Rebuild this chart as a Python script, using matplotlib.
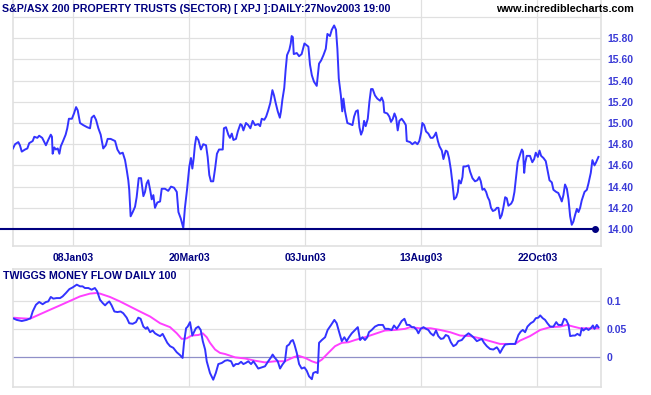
import matplotlib
matplotlib.use("Agg")
import matplotlib.pyplot as plt

# trading-day index (0 = first bar) and closing level of the XPJ index
price_days = [
    0.0, 0.9, 2.3, 3.0, 3.8, 5.2, 6.2, 7.0, 8.5, 9.2,
    10.5, 11.3, 12.6, 13.5, 14.2, 15.2, 16.3, 16.8, 17.1, 17.8,
    18.5, 19.3, 20.0, 20.6, 21.4, 22.7, 23.4, 24.1, 25.4, 26.3,
    27.2, 27.9, 28.9, 30.3, 32.0, 33.2, 33.9, 34.9, 35.8, 36.8,
    37.8, 38.9, 40.0, 40.8, 42.1, 44.0, 45.0, 46.1, 47.3, 48.3,
    49.0, 49.7, 50.1, 50.7, 51.6, 52.6, 53.3, 54.2, 55.2, 56.2,
    56.9, 57.6, 58.3, 59.1, 59.8, 60.5, 61.2, 62.2, 63.4, 64.1,
    65.5, 66.9, 68.1, 69.4, 70.6, 71.3, 72.3, 73.4, 74.1, 75.0,
    76.0, 76.7, 77.3, 77.9, 78.4, 79.0, 79.9, 81.0, 82.0, 83.2,
    83.9, 84.6, 85.3, 86.3, 87.1, 87.9, 88.8, 90.4, 90.9, 91.8,
    92.8, 93.5, 94.3, 95.0, 96.1, 96.9, 98.0, 98.6, 99.3, 100.4,
    101.4, 102.3, 103.3, 104.3, 105.7, 106.5, 107.2, 108.3, 109.1, 110.0,
    110.9, 111.8, 112.5, 113.2, 114.1, 115.0, 115.5, 116.1, 116.9, 117.5,
    118.1, 119.1, 119.7, 120.1, 120.6, 121.0, 122.3, 123.3, 124.4, 125.6,
    127.3, 128.0, 128.8, 129.7, 130.9, 131.9, 132.8, 133.8, 134.8, 135.5,
    136.6, 137.4, 138.4, 139.2, 139.8, 140.4, 141.3, 141.9, 142.4, 143.1,
    144.1, 145.3, 146.3, 147.0, 147.8, 148.6, 149.3, 150.0, 150.7, 151.3,
    152.0, 152.9, 153.6, 154.3, 155.0, 156.0, 157.0, 158.2, 158.9, 159.6,
    160.0, 161.3, 162.2, 162.9, 163.7, 164.4, 165.1, 165.8, 166.5, 167.5,
    168.5, 169.3, 169.7, 171.1, 172.1, 173.3, 174.3, 175.1, 175.9, 176.4,
    177.2, 178.0, 179.0, 180.0, 180.9, 181.6, 182.3, 183.1, 183.8, 184.8,
    185.5, 186.5, 187.2, 187.9, 188.7, 189.4, 190.1, 191.0, 191.7, 192.2,
    193.0, 193.7, 194.1, 195.1, 196.3, 197.0, 198.0, 199.1, 200.1, 200.9,
    201.6, 202.3, 203.1, 203.9, 204.6, 205.3, 206.0, 206.8, 207.8, 208.5,
    209.2, 209.9, 210.6, 211.3, 212.1, 212.8, 213.5, 214.7, 215.4, 216.1,
    216.8, 217.5, 218.5, 219.3, 219.8, 220.3, 220.7, 221.4, 222.8, 223.8,
    224.6, 225.3, 226.2, 226.9, 227.6, 228.6, 229.6, 230.3, 231.2, 232.2,
    232.9, 234.1, 235.0, 235.8, 236.5, 237.2, 237.9, 238.7, 239.4, 240.1,
    240.8, 241.5, 242.2, 243.0, 243.7, 244.4, 245.1, 246.3, 247.3, 248.0,
    249.0, 249.7, 250.6, 251.3, 252.3,
]
price = [
    14.76, 14.80, 14.82, 14.79, 14.73, 14.75, 14.76, 14.81, 14.83, 14.87,
    14.86, 14.88, 14.86, 14.82, 14.79, 14.84, 14.89, 14.87, 14.71, 14.77,
    14.75, 14.76, 14.71, 14.78, 14.82, 14.89, 14.95, 15.04, 15.04, 15.09,
    15.15, 15.12, 15.00, 14.98, 14.96, 14.95, 15.05, 15.07, 15.03, 14.95,
    14.89, 14.76, 14.79, 14.85, 14.85, 14.83, 14.75, 14.71, 14.72, 14.65,
    14.56, 14.46, 14.37, 14.12, 14.16, 14.21, 14.30, 14.48, 14.48, 14.31,
    14.35, 14.43, 14.46, 14.37, 14.28, 14.32, 14.20, 14.25, 14.26, 14.38,
    14.38, 14.36, 14.40, 14.39, 14.35, 14.16, 14.10, 14.01, 14.20, 14.37,
    14.59, 14.67, 14.57, 14.67, 14.79, 14.87, 14.84, 14.75, 14.80, 14.79,
    14.68, 14.51, 14.45, 14.45, 14.57, 14.71, 14.75, 14.75, 14.95, 14.96,
    14.89, 14.86, 14.90, 14.84, 14.85, 14.92, 14.99, 14.98, 14.93, 15.00,
    14.98, 14.95, 15.02, 14.98, 14.99, 14.97, 15.04, 15.03, 15.06, 15.12,
    15.19, 15.31, 15.26, 15.19, 15.11, 15.05, 15.11, 15.22, 15.33, 15.50,
    15.64, 15.69, 15.75, 15.82, 15.81, 15.65, 15.66, 15.63, 15.65, 15.75,
    15.72, 15.55, 15.45, 15.39, 15.35, 15.56, 15.59, 15.64, 15.70, 15.84,
    15.82, 15.88, 15.92, 15.88, 15.70, 15.42, 15.26, 15.11, 15.23, 15.11,
    15.00, 14.99, 14.98, 15.06, 15.11, 15.12, 14.96, 14.89, 14.93, 15.02,
    14.97, 15.04, 15.20, 15.32, 15.32, 15.26, 15.23, 15.21, 15.24, 15.20,
    15.10, 15.09, 15.06, 15.01, 15.04, 15.09, 15.05, 14.93, 15.02, 15.04,
    15.01, 14.98, 14.83, 14.82, 14.80, 14.82, 14.80, 14.83, 14.91, 15.00,
    14.98, 14.92, 14.90, 14.86, 14.86, 14.88, 14.91, 14.83, 14.78, 14.74,
    14.66, 14.74, 14.73, 14.67, 14.56, 14.43, 14.28, 14.30, 14.35, 14.46,
    14.43, 14.49, 14.59, 14.59, 14.60, 14.54, 14.48, 14.45, 14.46, 14.49,
    14.45, 14.37, 14.38, 14.35, 14.30, 14.27, 14.20, 14.17, 14.18, 14.20,
    14.20, 14.10, 14.13, 14.20, 14.30, 14.29, 14.22, 14.24, 14.27, 14.35,
    14.49, 14.63, 14.70, 14.75, 14.73, 14.53, 14.62, 14.69, 14.69, 14.63,
    14.66, 14.72, 14.68, 14.74, 14.69, 14.67, 14.64, 14.56, 14.46, 14.44,
    14.37, 14.35, 14.34, 14.30, 14.26, 14.32, 14.42, 14.38, 14.28, 14.12,
    14.04, 14.07, 14.13, 14.19, 14.16, 14.20, 14.27, 14.35, 14.37, 14.43,
    14.53, 14.65, 14.60, 14.63, 14.68,
]

# Twiggs Money Flow (100 day) and its signal line
tmf_days = [
    0.0, 1.6, 3.8, 5.9, 7.6, 8.5, 9.9, 11.3, 12.8, 14.2,
    15.2, 16.3, 17.4, 18.8, 20.3, 21.4, 22.8, 24.3, 25.7, 27.5,
    28.9, 30.0, 31.0, 32.5, 33.9, 35.3, 36.3, 37.5, 38.7, 39.7,
    40.6, 41.5, 42.5, 43.7, 45.0, 46.4, 47.5, 49.0, 50.1, 51.6,
    53.0, 54.0, 55.0, 56.2, 57.3, 57.9, 59.1, 60.2, 61.2, 62.4,
    63.4, 64.5, 65.5, 66.5, 67.7, 69.1, 70.6, 72.0, 73.1, 73.7,
    74.6, 75.3, 76.3, 77.3, 78.8, 79.9, 80.9, 81.8, 82.8, 83.5,
    84.9, 86.3, 87.4, 88.5, 90.0, 91.4, 92.5, 94.0, 95.0, 96.0,
    97.1, 98.3, 99.3, 100.3, 101.4, 102.6, 103.6, 104.6, 105.7, 107.2,
    108.6, 110.0, 111.2, 111.9, 112.9, 114.1, 115.1, 116.1, 117.2, 118.0,
    119.0, 119.8, 120.6, 121.3, 122.3, 123.3, 124.4, 125.6, 126.6, 127.6,
    128.8, 129.4, 130.5, 131.3, 131.9, 133.1, 134.5, 135.6, 137.1, 138.5,
    139.5, 140.5, 141.7, 142.8, 143.8, 144.8, 146.0, 147.4, 148.6, 149.6,
    150.6, 151.7, 152.7, 153.4, 154.6, 156.0, 157.5, 159.4, 160.3, 161.8,
    163.2, 164.2, 165.4, 166.5, 167.5, 168.7, 169.7, 170.8, 171.9, 172.8,
    174.0, 174.7, 175.7, 176.9, 178.0, 179.0, 180.0, 181.2, 182.3, 183.3,
    184.4, 185.5, 186.5, 187.6, 188.7, 189.8, 191.0, 191.9, 193.4, 194.8,
    196.3, 197.3, 198.4, 199.9, 201.0, 202.0, 203.0, 204.2, 205.6, 207.0,
    208.5, 209.2, 209.9, 211.1, 212.1, 214.2, 216.4, 217.8, 218.8, 219.7,
    220.7, 221.7, 223.1, 224.3, 225.3, 226.4, 227.2, 228.3, 229.3, 230.3,
    231.5, 232.9, 234.1, 235.0, 236.5, 237.5, 238.4, 239.4, 240.1, 241.3,
    242.2, 243.2, 244.4, 245.1, 245.8, 247.0, 248.0, 249.0, 249.9, 250.6,
    251.6, 252.3,
]
tmf = [
    0.070, 0.067, 0.065, 0.067, 0.070, 0.082, 0.094, 0.099, 0.095, 0.099,
    0.100, 0.108, 0.105, 0.106, 0.106, 0.109, 0.115, 0.122, 0.125, 0.130,
    0.127, 0.127, 0.124, 0.124, 0.121, 0.124, 0.118, 0.103, 0.097, 0.093,
    0.097, 0.100, 0.093, 0.082, 0.081, 0.082, 0.079, 0.071, 0.061, 0.060,
    0.063, 0.071, 0.069, 0.055, 0.051, 0.054, 0.045, 0.048, 0.043, 0.040,
    0.038, 0.042, 0.034, 0.026, 0.020, 0.017, 0.009, 0.004, -0.001, 0.026,
    0.052, 0.055, 0.063, 0.039, 0.052, 0.055, 0.049, 0.029, 0.014, -0.007,
    -0.028, -0.040, -0.028, -0.012, -0.010, -0.006, -0.005, -0.007, -0.016, -0.012,
    -0.012, -0.008, -0.012, -0.010, -0.007, -0.012, -0.007, -0.013, -0.020, -0.018,
    -0.016, -0.007, 0.000, 0.005, -0.001, -0.007, -0.020, -0.013, -0.007, 0.020,
    0.023, 0.029, 0.031, 0.023, 0.008, -0.012, -0.020, -0.018, -0.024, -0.034,
    -0.039, -0.028, -0.026, -0.028, 0.026, 0.031, 0.036, 0.049, 0.058, 0.067,
    0.061, 0.046, 0.029, 0.036, 0.029, 0.036, 0.043, 0.049, 0.054, 0.031,
    0.036, 0.031, 0.036, 0.045, 0.049, 0.055, 0.058, 0.058, 0.051, 0.051,
    0.049, 0.057, 0.051, 0.058, 0.065, 0.069, 0.058, 0.058, 0.054, 0.054,
    0.049, 0.043, 0.051, 0.054, 0.051, 0.049, 0.043, 0.039, 0.048, 0.038,
    0.033, 0.034, 0.040, 0.038, 0.027, 0.020, 0.023, 0.029, 0.031, 0.038,
    0.043, 0.040, 0.036, 0.029, 0.031, 0.033, 0.026, 0.020, 0.015, 0.014,
    0.018, 0.014, 0.008, 0.017, 0.023, 0.024, 0.024, 0.040, 0.046, 0.049,
    0.045, 0.055, 0.061, 0.064, 0.070, 0.071, 0.075, 0.070, 0.067, 0.061,
    0.055, 0.055, 0.063, 0.058, 0.058, 0.069, 0.067, 0.058, 0.038, 0.039,
    0.039, 0.042, 0.039, 0.052, 0.048, 0.052, 0.049, 0.052, 0.057, 0.051,
    0.058, 0.054,
]
signal_days = [
    0.0, 3.0, 7.3, 11.6, 15.9, 20.3, 24.6, 28.9, 33.2, 35.8,
    37.5, 41.8, 46.1, 50.4, 54.7, 59.1, 63.4, 67.7, 70.6, 72.7,
    74.9, 77.0, 79.9, 81.8, 83.5, 84.9, 87.1, 89.2, 91.4, 95.7,
    100.0, 104.3, 108.6, 112.9, 117.2, 120.8, 123.0, 125.9, 128.8, 130.9,
    133.1, 135.9, 138.8, 141.7, 144.5, 147.4, 151.7, 156.0, 160.3, 164.7,
    169.0, 171.1, 175.4, 180.0, 184.1, 188.4, 192.7, 197.0, 201.3, 205.6,
    209.9, 214.2, 216.4, 218.5, 222.8, 227.2, 231.5, 235.8, 238.7, 241.5,
    244.4, 248.7, 252.3,
]
signal = [
    0.071, 0.070, 0.069, 0.077, 0.085, 0.093, 0.101, 0.109, 0.114, 0.115,
    0.114, 0.108, 0.100, 0.091, 0.082, 0.073, 0.061, 0.054, 0.043, 0.033,
    0.034, 0.039, 0.040, 0.043, 0.036, 0.026, 0.014, 0.008, 0.006, 0.000,
    -0.002, -0.006, -0.009, -0.007, -0.007, 0.000, 0.003, -0.001, -0.007, -0.010,
    -0.004, 0.008, 0.020, 0.026, 0.027, 0.031, 0.036, 0.042, 0.048, 0.049,
    0.051, 0.054, 0.052, 0.052, 0.049, 0.045, 0.039, 0.038, 0.034, 0.029,
    0.024, 0.024, 0.024, 0.030, 0.038, 0.049, 0.054, 0.055, 0.058, 0.055,
    0.052, 0.052, 0.052,
]

tick_days = [26, 76, 126, 176, 226]
tick_labels = ['08Jan03', '20Mar03', '03Jun03', '13Aug03', '22Oct03']
price_ticks = [14.0, 14.2, 14.4, 14.6, 14.8, 15.0, 15.2, 15.4, 15.6, 15.8]
price_grid = price_ticks + [16.0]
tmf_ticks = [0.0, 0.05, 0.1]
tmf_tick_labels = ['0', '0.05', '0.1']
support_level = 14.00
support_end_day = 251

assert len(price_days) == len(price)
assert len(tmf_days) == len(tmf)
assert len(signal_days) == len(signal)

plt.rcParams['font.family'] = ['Liberation Sans', 'DejaVu Sans']
plt.rcParams['font.weight'] = 'bold'

NAVY = '#000080'
LINE_BLUE = '#3333ff'
LABEL_BLUE = '#3a3ad6'
GRID = '#e0e0e0'

fig = plt.figure(figsize=(6.51, 3.95), dpi=100)
ax = fig.add_axes([12.5 / 651, 1 - 246 / 395, 588.5 / 651, 246 / 395])
ax2 = fig.add_axes([12.5 / 651, 8 / 395, 588.5 / 651, 118 / 395])

for a in (ax, ax2):
    a.set_xlim(-0.2, 253.4)
    for s in a.spines.values():
        s.set_color(GRID)
        s.set_linewidth(1.2)
    a.spines['top'].set_visible(False)
    a.yaxis.tick_right()
    a.tick_params(length=0, labelsize=7.5, pad=4.3)
    for d in tick_days:
        a.axvline(d, color=GRID, lw=0.9, zorder=0)

# price panel
ax.set_ylim(13.84, 16.16)
for v in price_grid:
    ax.axhline(v, color=GRID, lw=0.9, zorder=0)
ax.plot(price_days, price, color=LINE_BLUE, lw=1.4, zorder=3)
ax.hlines(support_level, -5.7, support_end_day, color=NAVY, lw=1.5,
          clip_on=False, zorder=4)
ax.plot([support_end_day], [support_level], 'o', color=NAVY, ms=4,
        clip_on=False, zorder=5)
ax.set_yticks(price_ticks)
ax.set_yticklabels(['%.2f' % v for v in price_ticks], color=LABEL_BLUE,
                   fontweight='bold')
ax.set_xticks(tick_days)
ax.set_xticklabels(tick_labels, color=NAVY, fontweight='bold')
ax.tick_params(axis='x', pad=5)

# money flow panel
ax2.set_ylim(-0.053, 0.158)
for v in [0.05, 0.1]:
    ax2.axhline(v, color=GRID, lw=0.9, zorder=0)
ax2.axhline(0, color='#9090c8', lw=0.9, zorder=1)
ax2.plot(signal_days, signal, color='#ff40ff', lw=1.4, zorder=2)
ax2.plot(tmf_days, tmf, color=LINE_BLUE, lw=1.4, zorder=3)
ax2.set_yticks(tmf_ticks)
ax2.set_yticklabels(tmf_tick_labels, color=LABEL_BLUE, fontweight='bold')
ax2.set_xticks(tick_days)
ax2.set_xticklabels([])
ax2.spines['top'].set_visible(True)

fig.text(2 / 651, 1 - 8.5 / 395,
         'S&P/ASX 200 PROPERTY TRUSTS (SECTOR) [ XPJ ]:DAILY:27Nov2003 19:00',
         color=NAVY, fontsize=7.7, fontweight='bold', va='center', ha='left')
fig.text(634 / 651, 1 - 8.5 / 395, 'www.incrediblecharts.com',
         color='black', fontsize=7.8, fontweight='bold', va='center', ha='right')
fig.text(3 / 651, 1 - 275.7 / 395, 'TWIGGS MONEY FLOW DAILY 100',
         color=NAVY, fontsize=7.7, fontweight='bold', va='center', ha='left')

fig.savefig('out.png', dpi=100, facecolor='white')
